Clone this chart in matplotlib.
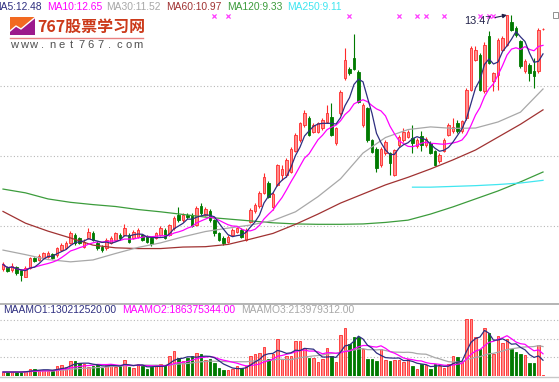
#%% imports
import numpy as np
import pandas as pd
import matplotlib
matplotlib.use("Agg")
from matplotlib import pyplot as plt
from matplotlib.patches import Rectangle, Polygon

#%% daily candles (prices)
opens = [6.77, 6.82, 6.74, 6.82, 6.74, 6.57, 6.80, 7.06, 7.00, 7.07,
         7.10, 7.17, 7.14, 7.27, 7.32, 7.45, 7.68, 7.58, 7.36, 7.58,
         7.71, 7.45, 7.36, 7.32, 7.45, 7.54, 7.67, 7.67, 7.67, 7.58,
         7.62, 7.67, 7.62, 7.58, 7.58, 7.67, 7.80, 7.67, 7.84, 8.20,
         8.06, 8.20, 8.20, 7.93, 8.42, 8.20, 8.29, 8.06, 7.71, 7.60,
         7.49, 7.67, 7.76, 7.81, 7.54, 8.02, 8.29, 8.42, 8.77, 9.03,
         8.40, 8.99, 9.25, 9.25, 9.34, 9.88, 10.17, 10.57, 10.75, 10.39,
         10.39, 10.48, 10.66, 10.79, 10.09, 10.88, 11.80, 12.06, 12.33, 11.98,
         10.57, 11.01, 10.17, 9.95, 9.51, 9.82, 9.82, 9.25, 10.04, 10.17,
         10.26, 10.22, 10.01, 10.27, 10.05, 10.10, 9.88, 9.61, 9.88, 10.31,
         10.40, 10.62, 10.40, 10.75, 11.50, 12.29, 12.42, 11.46, 12.91, 11.72,
         11.90, 12.56, 12.69, 13.30, 13.13, 12.78, 11.99, 12.16, 11.99, 11.99,
         13.10]
highs = [6.96, 6.86, 6.92, 6.86, 6.78, 6.85, 7.10, 7.10, 7.16, 7.22,
         7.24, 7.20, 7.36, 7.45, 7.50, 7.78, 7.72, 7.62, 7.55, 7.85,
         7.78, 7.50, 7.40, 7.58, 7.63, 7.76, 7.72, 7.95, 7.72, 7.80,
         7.86, 7.70, 7.66, 7.62, 7.75, 7.90, 7.84, 7.97, 8.16, 8.41,
         8.25, 8.24, 8.25, 8.42, 8.50, 8.40, 8.36, 8.10, 7.75, 7.65,
         7.66, 7.84, 7.88, 7.86, 7.84, 8.38, 8.52, 8.82, 9.30, 9.10,
         8.80, 9.55, 9.51, 9.70, 10.00, 10.36, 10.66, 10.97, 10.80, 10.62,
         10.66, 10.75, 11.10, 11.14, 10.52, 11.50, 12.59, 12.10, 12.96, 12.02,
         11.14, 11.05, 10.20, 9.99, 9.99, 10.18, 9.86, 9.95, 10.31, 10.48,
         10.44, 10.57, 10.22, 10.40, 10.25, 10.14, 9.92, 9.83, 10.22, 10.62,
         10.75, 10.70, 10.71, 11.55, 12.65, 12.65, 12.48, 12.75, 13.04, 11.98,
         12.86, 12.92, 13.47, 13.46, 13.17, 12.82, 12.30, 12.20, 12.34, 13.13,
         13.12]
lows = [6.72, 6.68, 6.70, 6.62, 6.45, 6.55, 6.78, 6.95, 6.97, 7.05,
        7.07, 7.04, 7.10, 7.25, 7.30, 7.42, 7.40, 7.42, 7.32, 7.55,
        7.50, 7.28, 7.22, 7.28, 7.42, 7.50, 7.55, 7.63, 7.45, 7.55,
        7.58, 7.50, 7.45, 7.38, 7.55, 7.64, 7.55, 7.64, 7.80, 8.02,
        8.02, 8.10, 7.88, 7.90, 8.20, 8.16, 8.02, 7.65, 7.50, 7.40,
        7.46, 7.64, 7.72, 7.58, 7.50, 7.98, 8.26, 8.38, 8.74, 8.64,
        8.33, 8.95, 9.12, 9.20, 9.30, 9.85, 10.12, 10.52, 10.27, 10.35,
        10.35, 10.44, 10.62, 10.27, 10.05, 10.83, 11.75, 11.88, 12.02, 11.14,
        10.52, 10.12, 9.83, 9.34, 9.47, 9.78, 9.25, 9.22, 10.00, 10.13,
        10.22, 9.82, 9.97, 9.88, 10.00, 9.80, 9.48, 9.58, 9.85, 10.28,
        10.36, 10.36, 10.36, 10.70, 11.46, 12.25, 11.46, 11.42, 12.17, 11.46,
        11.50, 12.52, 12.65, 13.04, 12.90, 12.08, 11.95, 11.72, 11.55, 11.95,
        13.08]
closes = [6.89, 6.72, 6.86, 6.66, 6.60, 6.80, 7.06, 6.98, 7.12, 7.18,
          7.18, 7.07, 7.32, 7.40, 7.45, 7.71, 7.45, 7.45, 7.49, 7.75,
          7.53, 7.32, 7.27, 7.54, 7.58, 7.71, 7.58, 7.84, 7.49, 7.75,
          7.81, 7.54, 7.49, 7.43, 7.71, 7.84, 7.58, 7.93, 8.11, 8.06,
          8.20, 8.14, 7.91, 8.37, 8.24, 8.35, 8.06, 7.71, 7.54, 7.45,
          7.62, 7.80, 7.85, 7.62, 7.80, 8.33, 8.46, 8.77, 9.21, 8.68,
          8.76, 9.51, 9.41, 9.65, 9.95, 10.31, 10.61, 10.88, 10.31, 10.57,
          10.61, 10.70, 10.88, 10.31, 10.48, 11.45, 12.28, 11.93, 12.06, 11.18,
          11.10, 10.17, 9.87, 9.43, 9.95, 10.13, 9.56, 9.91, 10.26, 10.39,
          10.39, 10.09, 10.18, 10.05, 10.20, 9.83, 9.52, 9.79, 10.18, 10.58,
          10.53, 10.40, 10.67, 11.50, 12.60, 12.56, 11.50, 12.69, 12.21, 11.94,
          12.82, 12.87, 13.46, 13.08, 12.95, 12.12, 12.25, 11.94, 11.86, 13.08,
          13.10]
# 成交额 (百万元)
amounts = [33, 33, 33, 33, 33, 42, 58, 58, 50, 50,
           42, 42, 83, 91, 75, 125, 125, 108, 100, 75,
           83, 100, 66, 91, 100, 75, 83, 133, 75, 66,
           100, 83, 58, 75, 83, 100, 91, 166, 208, 149,
           125, 149, 166, 191, 183, 133, 141, 108, 66, 50,
           50, 58, 83, 66, 83, 166, 183, 191, 241, 141,
           183, 307, 141, 166, 166, 291, 291, 232, 149, 149,
           116, 141, 232, 166, 116, 340, 398, 266, 324, 324,
           224, 141, 141, 125, 224, 133, 125, 133, 133, 116,
           141, 83, 58, 100, 91, 58, 100, 83, 66, 100,
           166, 158, 125, 473, 473, 324, 224, 398, 357, 183,
           332, 274, 307, 224, 199, 183, 174, 108, 108, 257,
           8]

#%% long moving averages (every 5th day)
ma_days = [0, 5, 10, 15, 20, 25, 30, 35, 40, 45, 50, 55, 60,
           65, 70, 75, 80, 85, 90, 95, 100, 105, 110, 115, 120]
ma30 = [7.27, 7.15, 7.02, 6.96, 7.01, 7.18, 7.34, 7.46, 7.62, 7.76, 7.85, 7.93, 8.05,
        8.28, 8.68, 9.15, 9.83, 10.24, 10.45, 10.52, 10.48, 10.49, 10.65, 10.91, 11.52]
ma60 = [8.29, 7.98, 7.77, 7.59, 7.40, 7.33, 7.31, 7.31, 7.35, 7.36, 7.42, 7.56, 7.71,
        7.95, 8.22, 8.51, 8.75, 8.99, 9.19, 9.41, 9.65, 9.91, 10.25, 10.59, 10.97]
ma120 = [8.88, 8.78, 8.62, 8.53, 8.47, 8.42, 8.34, 8.28, 8.21, 8.14, 8.09, 8.04, 7.99,
         7.96, 7.95, 7.95, 7.96, 8.00, 8.06, 8.22, 8.41, 8.62, 8.83, 9.07, 9.33]
ma250_days = [91, 95, 100, 105, 110, 115, 120]
ma250 = [8.93, 8.93, 8.95, 8.97, 9.00, 9.04, 9.11]

mark_days = [47, 50, 77, 88, 92, 94, 98, 106, 108, 109]
high_day = 112
high_label = "13.47"

main_labels = ["MA5:12.48", "MA10:12.65", "MA30:11.52", "MA60:10.97", "MA120:9.33", "MA250:9.11"]
vol_labels = ["MAAMO1:130212520.00", "MAAMO2:186375344.00", "MAAMO3:213979312.00"]
grid_prices = [11.60, 9.75, 7.90]
grid_amounts = [155, 310, 465]

#%% layout / colours
W, H = 559, 382
C_UP_FACE, C_UP_EDGE, C_DN = "#ff8c8c", "#ff2a2a", "#007a00"
C_MA5, C_MA10, C_MA30, C_MA60, C_MA120, C_MA250 = "#2e2e80", "#ff00ff", "#a8a8a8", "#a03232", "#3c9c3c", "#40e6f0"
main_label_x = [-8, 47, 106, 166, 227, 287]
main_label_c = [C_MA5, C_MA10, C_MA30, C_MA60, C_MA120, C_MA250]
vol_label_x = [3, 122, 241]
vol_label_c = [C_MA5, C_MA10, C_MA30]
LAT = "Liberation Sans"

df = pd.DataFrame({"o": opens, "h": highs, "l": lows, "c": closes, "amt": amounts})
x = np.arange(len(df))
up = df["c"] >= df["o"]
df["ma5"] = df["c"].rolling(5, min_periods=1).mean()
df["ma10"] = df["c"].rolling(10, min_periods=1).mean()
df["am5"] = df["amt"].rolling(5, min_periods=1).mean()
df["am10"] = df["amt"].rolling(10, min_periods=1).mean()
df["am20"] = df["amt"].rolling(20, min_periods=1).mean()

fig = plt.figure(figsize=(W / 100, H / 100), dpi=100)
fig.patch.set_facecolor("white")
xlim = (-3 / 4.5, (W - 3) / 4.5)

#%% price panel
ax = fig.add_axes([0, 1 - 303 / H, 1, 303 / H])
ax.set_xlim(*xlim)
ax.set_ylim(5.874, 13.868)
ax.axis("off")
for g in grid_prices:
    ax.axhline(g, color="#b8b8b8", lw=0.8, ls=(0, (1, 2)), zorder=0)

body_lo = np.minimum(df["o"], df["c"])
body_h = np.maximum(np.abs(df["c"] - df["o"]), 0.015)
face = np.where(up, C_UP_FACE, C_DN)
edge = np.where(up, C_UP_EDGE, C_DN)
ax.vlines(x, df["l"], df["h"], colors=edge, lw=0.8, zorder=2)
ax.bar(x, body_h, bottom=body_lo, width=0.66, color=face, edgecolor=edge, lw=0.6, zorder=3)

ax.plot(ma_days, ma120, color=C_MA120, lw=0.9, zorder=4)
ax.plot(ma_days, ma60, color=C_MA60, lw=0.9, zorder=4)
ax.plot(ma_days, ma30, color=C_MA30, lw=0.9, zorder=4)
ax.plot(ma250_days, ma250, color=C_MA250, lw=0.9, zorder=4)
ax.plot(x, df["ma10"], color=C_MA10, lw=0.9, zorder=5)
ax.plot(x, df["ma5"], color=C_MA5, lw=0.9, zorder=6)

ax.scatter(mark_days, [1 - 15.7 / 303] * len(mark_days), transform=ax.get_xaxis_transform(),
           marker="x", s=9, color="#ff40ff", lw=0.9, zorder=6)
ax.annotate(high_label, xy=(high_day, df["h"][high_day]), xytext=(-16, -6), textcoords="offset pixels",
            ha="right", va="center", fontsize=7.8, family=LAT, color="#202048", zorder=8,
            arrowprops=dict(arrowstyle="-|>", color="#202048", lw=0.8, mutation_scale=6,
                            shrinkA=1, shrinkB=0))

#%% amount panel
vax = fig.add_axes([0, 1 - 376 / H, 1, 73 / H])
vax.set_xlim(*xlim)
vax.set_ylim(0, 606)
vax.axis("off")
for g in grid_amounts:
    vax.axhline(g, color="#b8b8b8", lw=0.8, ls=(0, (1, 2)), zorder=0)
vax.bar(x, df["amt"], width=0.66, color=face, edgecolor=edge, lw=0.6, zorder=2)
vax.plot(x, df["am20"], color=C_MA30, lw=0.9, zorder=3)
vax.plot(x, df["am10"], color=C_MA10, lw=0.9, zorder=4)
vax.plot(x, df["am5"], color=C_MA5, lw=0.9, zorder=5)

#%% overlay in pixels: texts, separators, logo
oax = fig.add_axes([0, 0, 1, 1], zorder=10)
oax.set_xlim(0, W)
oax.set_ylim(H, 0)
oax.axis("off")
oax.patch.set_alpha(0)

for t, px_, c in zip(main_labels, main_label_x, main_label_c):
    oax.text(px_, 6.8, t, color=c, fontsize=7.35, family=LAT, ha="left", va="center")
for t, px_, c in zip(vol_labels, vol_label_x, vol_label_c):
    oax.text(px_, 310, t, color=c, fontsize=7.4, family=LAT, ha="left", va="center")

oax.plot([0, W], [303.5, 303.5], color="#b4b4b4", lw=1.4)
oax.plot([0, W], [376.5, 376.5], color="#c8c8c8", lw=1.0)
oax.add_patch(Rectangle((553, 12), 5, 6, fill=False, ec="#909090", lw=0.7))

# logo
oax.add_patch(Rectangle((10, 17), 25, 18, color="#f26a21", lw=0))
zig = [(10, 31), (16, 26), (21, 29), (35, 17.5)]
oax.add_patch(Polygon([(10, 35)] + zig + [(35, 35)], closed=True, color="#9c1a8c", lw=0))
oax.plot([p[0] for p in zig], [p[1] for p in zig], color="white", lw=1.0)
oax.text(37, 26.5, "767股票学习网", color="#cc3a1a", fontsize=11.5, fontweight="bold",
         family=["Noto Sans CJK SC", "DejaVu Sans"], ha="left", va="center")
oax.plot([10, 143], [37.5, 37.5], color="#e88080", lw=1.0)
for k, ch in enumerate("www.net767.com"):
    oax.text(14.5 + k * 9.5, 45.5, ch, color="#505050", fontsize=8, family=LAT, ha="center", va="center")

fig.savefig("out.png", dpi=100)
